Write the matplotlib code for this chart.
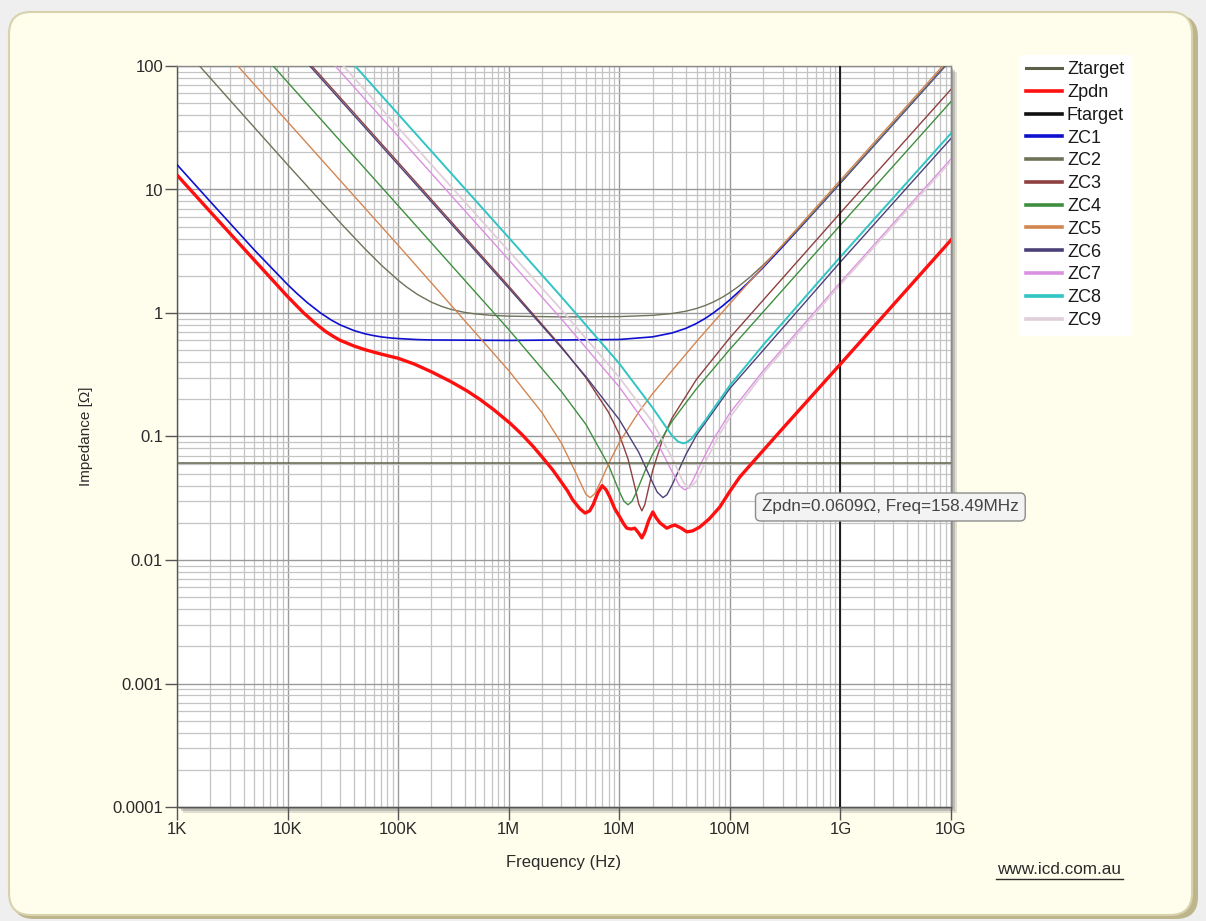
import matplotlib
matplotlib.use('Agg')
import matplotlib.pyplot as plt
from matplotlib.patches import FancyBboxPatch, Rectangle
from matplotlib.lines import Line2D
from matplotlib.transforms import IdentityTransform
from matplotlib.ticker import FixedLocator, FixedFormatter, NullFormatter

plt.rcParams['font.family'] = ['Liberation Sans', 'DejaVu Sans']

# ---------------- data ----------------
x_ticks = [1e3, 1e4, 1e5, 1e6, 1e7, 1e8, 1e9, 1e10]
x_labels = ['1K', '10K', '100K', '1M', '10M', '100M', '1G', '10G']
y_ticks = [1e-4, 1e-3, 1e-2, 1e-1, 1, 10, 100]
y_labels = ['0.0001', '0.001', '0.01', '0.1', '1', '10', '100']

ztarget_f = [1e3, 1e10]
ztarget_z = [0.0609, 0.0609]
ftarget_f = [1e9, 1e9]
ftarget_z = [1e-4, 100]

zpdn_f = [1e3, 2e3, 5e3, 1e4, 1.4e4, 1.8e4, 2.2e4, 2.6e4, 3e4, 4e4, 5e4, 7e4, 1e5, 1.4e5,
          2e5, 3e5, 4.2e5, 5.5e5, 7.2e5, 1.03e6, 1.3e6, 1.66e6, 2e6,
          2.5e6, 2.9e6, 3.4e6, 3.8e6, 4.4e6, 4.9e6, 5.4e6, 5.8e6, 6.4e6, 7.0e6, 7.6e6,
          8.2e6, 9.1e6, 1.01e7, 1.1e7, 1.17e7, 1.28e7, 1.38e7, 1.5e7, 1.6e7, 1.7e7,
          1.85e7, 2.01e7, 2.15e7, 2.33e7, 2.69e7, 2.95e7, 3.18e7, 3.6e7, 4.08e7, 4.6e7,
          5.35e7, 6.5e7, 8.1e7, 1.0e8, 1.23e8, 1.585e8, 3e8, 1e9, 1e10]
zpdn_z = [13.1, 6.6, 2.68, 1.36, 1.0, 0.82, 0.71, 0.645, 0.60, 0.54, 0.505, 0.465, 0.43, 0.386,
          0.334, 0.278, 0.234, 0.1995, 0.1667, 0.128, 0.105, 0.0832, 0.0684,
          0.0536, 0.0445, 0.0363, 0.0306, 0.026, 0.024, 0.025, 0.028, 0.035, 0.040, 0.037,
          0.0324, 0.026, 0.0223, 0.0195, 0.0181, 0.0178, 0.0181, 0.0165, 0.0151, 0.0168,
          0.021, 0.0245, 0.022, 0.020, 0.0181, 0.0188, 0.0192, 0.0182, 0.0169, 0.0172,
          0.0185, 0.0215, 0.0268, 0.036, 0.047, 0.0609, 0.116, 0.386, 3.9]

zc1_f = [1e3, 2e3, 5e3, 1e4, 1.2e4, 1.5e4, 2e4, 2.5e4, 3e4, 4e4, 5e4, 6e4, 7e4, 8.5e4, 1e5,
         1.5e5, 2e5, 1e6, 1e7, 2e7, 3e7, 4e7, 5e7, 6e7, 7e7, 8.5e7, 1e8, 1.2e8, 1.5e8, 2e8,
         3e8, 5e8, 1e9, 8.85e9]
zc1_z = [15.9, 7.98, 3.24, 1.70, 1.455, 1.218, 0.996, 0.874, 0.80, 0.72, 0.679, 0.656, 0.641,
         0.628, 0.621, 0.609, 0.605, 0.60, 0.61, 0.641, 0.689, 0.751, 0.824, 0.905, 0.993,
         1.132, 1.279, 1.483, 1.798, 2.338, 3.443, 5.68, 11.3, 100]

zc2_f = [1.6e3, 3e3, 1e4, 3e4, 5e4, 7e4, 1e5, 1.2e5, 1.5e5, 2e5, 2.5e5, 3e5, 4e5, 5e5, 7e5,
         1e6, 3e6, 1e7, 2e7, 3e7, 4e7, 5e7, 6e7, 7e7, 8.5e7, 1e8, 1.2e8, 1.5e8, 2e8, 3e8,
         5e8, 1e9, 8.85e9]
zc2_z = [100, 53.1, 15.9, 5.38, 3.313, 2.455, 1.842, 1.619, 1.41, 1.223, 1.127, 1.07, 1.011,
         0.983, 0.957, 0.943, 0.93, 0.935, 0.957, 0.99, 1.034, 1.088, 1.151, 1.221, 1.337,
         1.463, 1.644, 1.933, 2.444, 3.515, 5.726, 11.34, 100]

zc3_f = [1.66e4, 1e5, 1e6, 3e6, 5e6, 8e6, 1e7, 1.2e7, 1.4e7, 1.5e7, 1.6e7, 1.7e7, 1.8e7,
         2e7, 2.5e7, 3e7, 5e7, 1e8, 1e9, 1e10]
zc3_z = [100, 16.6, 1.65, 0.533, 0.299, 0.157, 0.104, 0.0656, 0.0374, 0.0284, 0.025,
         0.028, 0.035, 0.0528, 0.0987, 0.141, 0.291, 0.630, 6.47, 64.7]

zc4_f = [7.4e3, 1e5, 1e6, 3e6, 5e6, 8e6, 1e7, 1.1e7, 1.2e7, 1.3e7, 1.4e7, 1.7e7, 2e7,
         3e7, 5e7, 1e8, 1e9, 1e10]
zc4_z = [100, 7.40, 0.735, 0.231, 0.125, 0.0585, 0.0359, 0.030, 0.028, 0.0298, 0.034,
         0.052, 0.0717, 0.133, 0.244, 0.508, 5.15, 51.5]

zc5_f = [3.55e3, 1e4, 1e5, 1e6, 2e6, 3e6, 4e6, 5e6, 5.45e6, 6e6, 7e6, 8e6, 1e7, 1.5e7,
         2e7, 5e7, 1e8, 1e9, 8.4e9]
zc5_z = [100, 35.4, 3.54, 0.342, 0.156, 0.0882, 0.0518, 0.0339, 0.032, 0.0343, 0.0458,
         0.060, 0.0895, 0.158, 0.222, 0.588, 1.19, 11.9, 100]

zc6_f = [1.59e4, 1e5, 1e6, 3e6, 5e6, 1e7, 1.5e7, 2e7, 2.2e7, 2.48e7, 2.7e7, 3e7, 4e7,
         5e7, 1e8, 1e9, 1e10]
zc6_z = [100, 15.9, 1.59, 0.523, 0.305, 0.137, 0.0744, 0.0424, 0.0355, 0.032, 0.0338,
         0.0404, 0.0714, 0.1028, 0.245, 2.59, 25.9]

zc7_f = [2.7e4, 1e5, 1e6, 3e6, 1e7, 2e7, 3e7, 3.5e7, 3.9e7, 4.2e7, 4.5e7, 5.5e7, 7e7,
         1e8, 2e8, 1e9, 1e10]
zc7_z = [100, 27.0, 2.70, 0.894, 0.252, 0.106, 0.052, 0.040, 0.037, 0.0384, 0.042,
         0.061, 0.093, 0.155, 0.34, 1.77, 17.7]

zc8_f = [4.08e4, 1e5, 1e6, 3e6, 1e7, 2e7, 3e7, 3.4e7, 3.78e7, 4e7, 4.5e7, 6e7, 1e8,
         2e8, 1e9, 1e10]
zc8_z = [100, 40.8, 4.08, 1.35, 0.39, 0.171, 0.1015, 0.091, 0.088, 0.089, 0.0957,
         0.135, 0.259, 0.55, 2.85, 28.5]

zc9_f = [3.2e4, 1e5, 1e6, 3e6, 1e7, 2e7, 3e7, 3.8e7, 4.3e7, 5e7, 6e7, 8e7, 1e8, 2e8,
         1e9, 1e10]
zc9_z = [100, 31.8, 3.18, 1.06, 0.301, 0.131, 0.067, 0.0425, 0.038, 0.0436, 0.062,
         0.103, 0.143, 0.324, 1.70, 17.0]

tooltip_text = 'Zpdn=0.0609\u03a9, Freq=158.49MHz'

# ---------------- styles ----------------
series = [
    # name, f, z, color, lw
    ('ZC1', zc1_f, zc1_z, '#1010D0', 1.2),
    ('ZC2', zc2_f, zc2_z, '#6E7259', 1.0),
    ('ZC3', zc3_f, zc3_z, '#8E4040', 1.0),
    ('ZC4', zc4_f, zc4_z, '#3F8F3F', 1.0),
    ('ZC5', zc5_f, zc5_z, '#D38650', 1.0),
    ('ZC6', zc6_f, zc6_z, '#4C4078', 1.0),
    ('ZC7', zc7_f, zc7_z, '#DC90E0', 1.0),
    ('ZC8', zc8_f, zc8_z, '#30C4C4', 1.4),
    ('ZC9', zc9_f, zc9_z, '#E0CFDA', 1.3),
]
c_target = '#5C6048'
c_pdn = '#FF1010'
c_ftarget = '#101010'

W, H = 1206, 921
fig = plt.figure(figsize=(W / 100, H / 100), dpi=100)
fig.patch.set_facecolor('#EFEFEF')

pix = IdentityTransform()
# panel shadow + panel
fig.patches.append(FancyBboxPatch((12, 2), 1186, 904, boxstyle='round,pad=0,rounding_size=22',
                                  transform=pix, fc='#BDB68C', ec='none', zorder=-10))
fig.patches.append(FancyBboxPatch((9, 6), 1183, 903, boxstyle='round,pad=0,rounding_size=22',
                                  transform=pix, fc='#FFFEEC', ec='#D8D2AC', lw=1.5, zorder=-9))

# axes area in pixels
L, R, T, B = 177, 951, 66, 807
ax = fig.add_axes([L / W, 1 - B / H, (R - L) / W, (B - T) / H])
# plot shadow
for i, a in enumerate([0.25, 0.35, 0.5]):
    off = 6 - 2 * i
    fig.patches.append(Rectangle((L + off, H - B - off), R - L, B - T, transform=pix,
                                 fc='#808080', ec='none', alpha=a, zorder=-5))

ax.set_facecolor('white')
ax.set_xscale('log')
ax.set_yscale('log')
ax.set_xlim(1e3, 1e10)
ax.set_ylim(1e-4, 100)

ax.xaxis.set_major_locator(FixedLocator(x_ticks))
ax.xaxis.set_major_formatter(FixedFormatter(x_labels))
ax.yaxis.set_major_locator(FixedLocator(y_ticks))
ax.yaxis.set_major_formatter(FixedFormatter(y_labels))
ax.xaxis.set_minor_formatter(NullFormatter())
ax.yaxis.set_minor_formatter(NullFormatter())
ax.tick_params(which='major', length=9, width=1, color='#555555', labelsize=12,
               labelcolor='#2A2A2A', direction='out')
ax.tick_params(which='minor', length=0)
ax.tick_params(axis='x', pad=2)
ax.tick_params(axis='y', pad=1)
ax.grid(which='major', color='#9A9A9A', lw=1.0)
ax.grid(which='minor', color='#C4C4C4', lw=0.9)
ax.set_axisbelow(True)
for s in ax.spines.values():
    s.set_color('#8A8A8A')
    s.set_linewidth(1.0)
ax.spines['left'].set_color('#555555')
ax.spines['bottom'].set_color('#555555')

for name, f, z, col, lw in series:
    ax.plot(f, z, color=col, lw=lw, zorder=3, solid_joinstyle='round')
ax.plot(ztarget_f, ztarget_z, color=c_target, lw=1.1, zorder=4)
ax.plot(ftarget_f, ftarget_z, color=c_ftarget, lw=1.3, zorder=4)
ax.plot(zpdn_f, zpdn_z, color=c_pdn, lw=2.4, zorder=5, solid_joinstyle='round')

ax.set_xlabel('Frequency (Hz)', fontsize=12, color='#2A2A2A', labelpad=13)
ax.set_ylabel('Impedance [\u03a9]', fontsize=11, color='#2A2A2A', labelpad=14)

# legend
handles = [Line2D([], [], color=c_target, lw=2.2),
           Line2D([], [], color=c_pdn, lw=2.6),
           Line2D([], [], color=c_ftarget, lw=2.6)]
labels = ['Ztarget', 'Zpdn', 'Ftarget']
for name, f, z, col, lw in series:
    handles.append(Line2D([], [], color=col, lw=2.6))
    labels.append(name)
leg = fig.legend(handles, labels, loc='upper left', bbox_to_anchor=(1011 / W, 1 - 46 / H),
                 fontsize=13, frameon=True, fancybox=False, framealpha=1,
                 handlelength=1.95, handletextpad=0.3, labelspacing=0.32, borderpad=0.35)
leg.get_frame().set_facecolor('white')
leg.get_frame().set_edgecolor('white')
for t in leg.get_texts():
    t.set_color('#1A1A1A')

# tooltip
fig.text(762 / W, 1 - 507 / H, tooltip_text, fontsize=12.3, color='#444444', va='center',
         ha='left', bbox=dict(boxstyle='round,pad=0.38,rounding_size=0.3', fc='#F3F3F3',
                              ec='#8C8C8C', lw=1.0))

# website
fig.text(1059 / W, 1 - 869 / H, 'www.icd.com.au', fontsize=12.3, color='#2A2A2A',
         ha='center', va='center')
fig.add_artist(Line2D([996, 1123], [H - 879, H - 879], transform=pix, color='#2A2A2A', lw=1))

fig.savefig('out.png', dpi=100, facecolor=fig.get_facecolor())
